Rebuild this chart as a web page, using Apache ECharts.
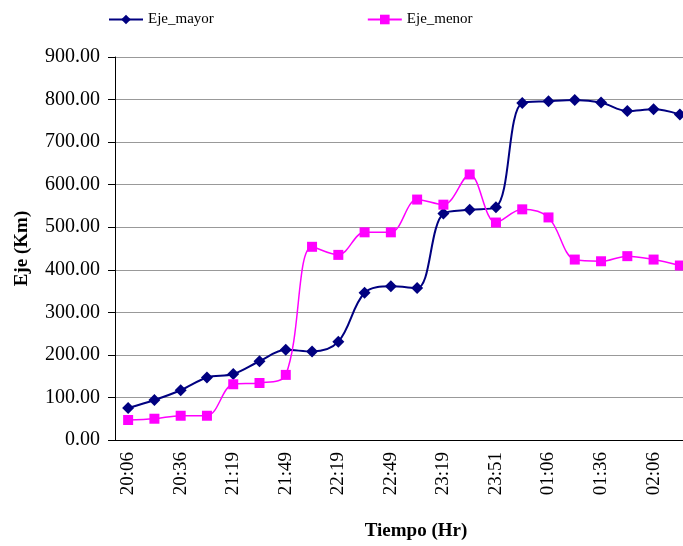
<!DOCTYPE html>
<html>
<head>
<meta charset="utf-8">
<script src="https://cdn.jsdelivr.net/npm/echarts@6/dist/echarts.min.js"></script>
<style>
  html, body { margin: 0; padding: 0; background: #fff; overflow: hidden; }
  #chart { width: 693px; height: 546px; }
</style>
</head>
<body>
<div id="chart"></div>
<script>
// hora de cada medición (solo se rotulan una de cada dos)
var horas = ['20:06', '20:21', '20:36', '21:04', '21:19', '21:34', '21:49', '22:04',
  '22:19', '22:34', '22:49', '23:04', '23:19', '23:34', '23:51', '00:51',
  '01:06', '01:21', '01:36', '01:51', '02:06', '02:21'];
var ejeMayor = [75, 94, 117, 147, 155, 185, 212, 208, 231, 346, 361,
  357, 532, 541, 547, 792, 796, 799, 793, 773, 777, 765];
var ejeMenor = [47, 50, 57, 57, 131, 134, 153, 454, 435, 488, 488,
  565, 553, 624, 511, 542, 523, 424, 420, 432, 424, 410];

var fuente = 'Liberation Serif, Times New Roman, serif';

var chart = echarts.init(document.getElementById('chart'));
chart.setOption({
  animation: false,
  textStyle: { fontFamily: fuente },
  legend: {
    left: 103,
    top: 7,
    itemWidth: 34,
    itemHeight: 12,
    itemGap: 153,
    textStyle: { fontFamily: fuente, fontSize: 15, color: '#000' },
    data: ['Eje_mayor', 'Eje_menor']
  },
  grid: { left: 115, top: 57, right: 0, bottom: 96 },
  xAxis: {
    type: 'category',
    data: horas,
    name: 'Tiempo (Hr)',
    nameLocation: 'middle',
    nameGap: 82,
    nameTextStyle: { fontFamily: fuente, fontSize: 19, fontWeight: 'bold', color: '#000', padding: [0, 0, 0, 24] },
    axisLine: { lineStyle: { color: '#000', width: 1 } },
    axisTick: { interval: 0, length: 7, lineStyle: { color: '#000' } },
    axisLabel: { interval: 1, rotate: 90, margin: 12, fontSize: 19, color: '#000', fontFamily: fuente },
    splitLine: { show: false }
  },
  yAxis: {
    type: 'value',
    min: 0,
    max: 900,
    interval: 100,
    name: 'Eje (Km)',
    nameLocation: 'middle',
    nameGap: 83,
    nameTextStyle: { fontFamily: fuente, fontSize: 19, fontWeight: 'bold', color: '#000' },
    axisLine: { show: true, lineStyle: { color: '#000', width: 1 } },
    axisTick: { show: true, length: 7, lineStyle: { color: '#000' } },
    axisLabel: {
      margin: 15, fontSize: 20, color: '#000', fontFamily: fuente,
      formatter: function (v) { return v.toFixed(2); }
    },
    splitLine: { lineStyle: { color: '#999', width: 1 } }
  },
  series: [
    {
      name: 'Eje_mayor',
      type: 'line',
      data: ejeMayor,
      smooth: 0.35,
      symbol: 'diamond',
      symbolSize: 12,
      itemStyle: { color: '#000080' },
      lineStyle: { color: '#000080', width: 2 }
    },
    {
      name: 'Eje_menor',
      type: 'line',
      data: ejeMenor,
      smooth: 0.35,
      symbol: 'rect',
      symbolSize: 10,
      itemStyle: { color: '#ff00ff' },
      lineStyle: { color: '#ff00ff', width: 1.5 }
    }
  ]
});
</script>
</body>
</html>
